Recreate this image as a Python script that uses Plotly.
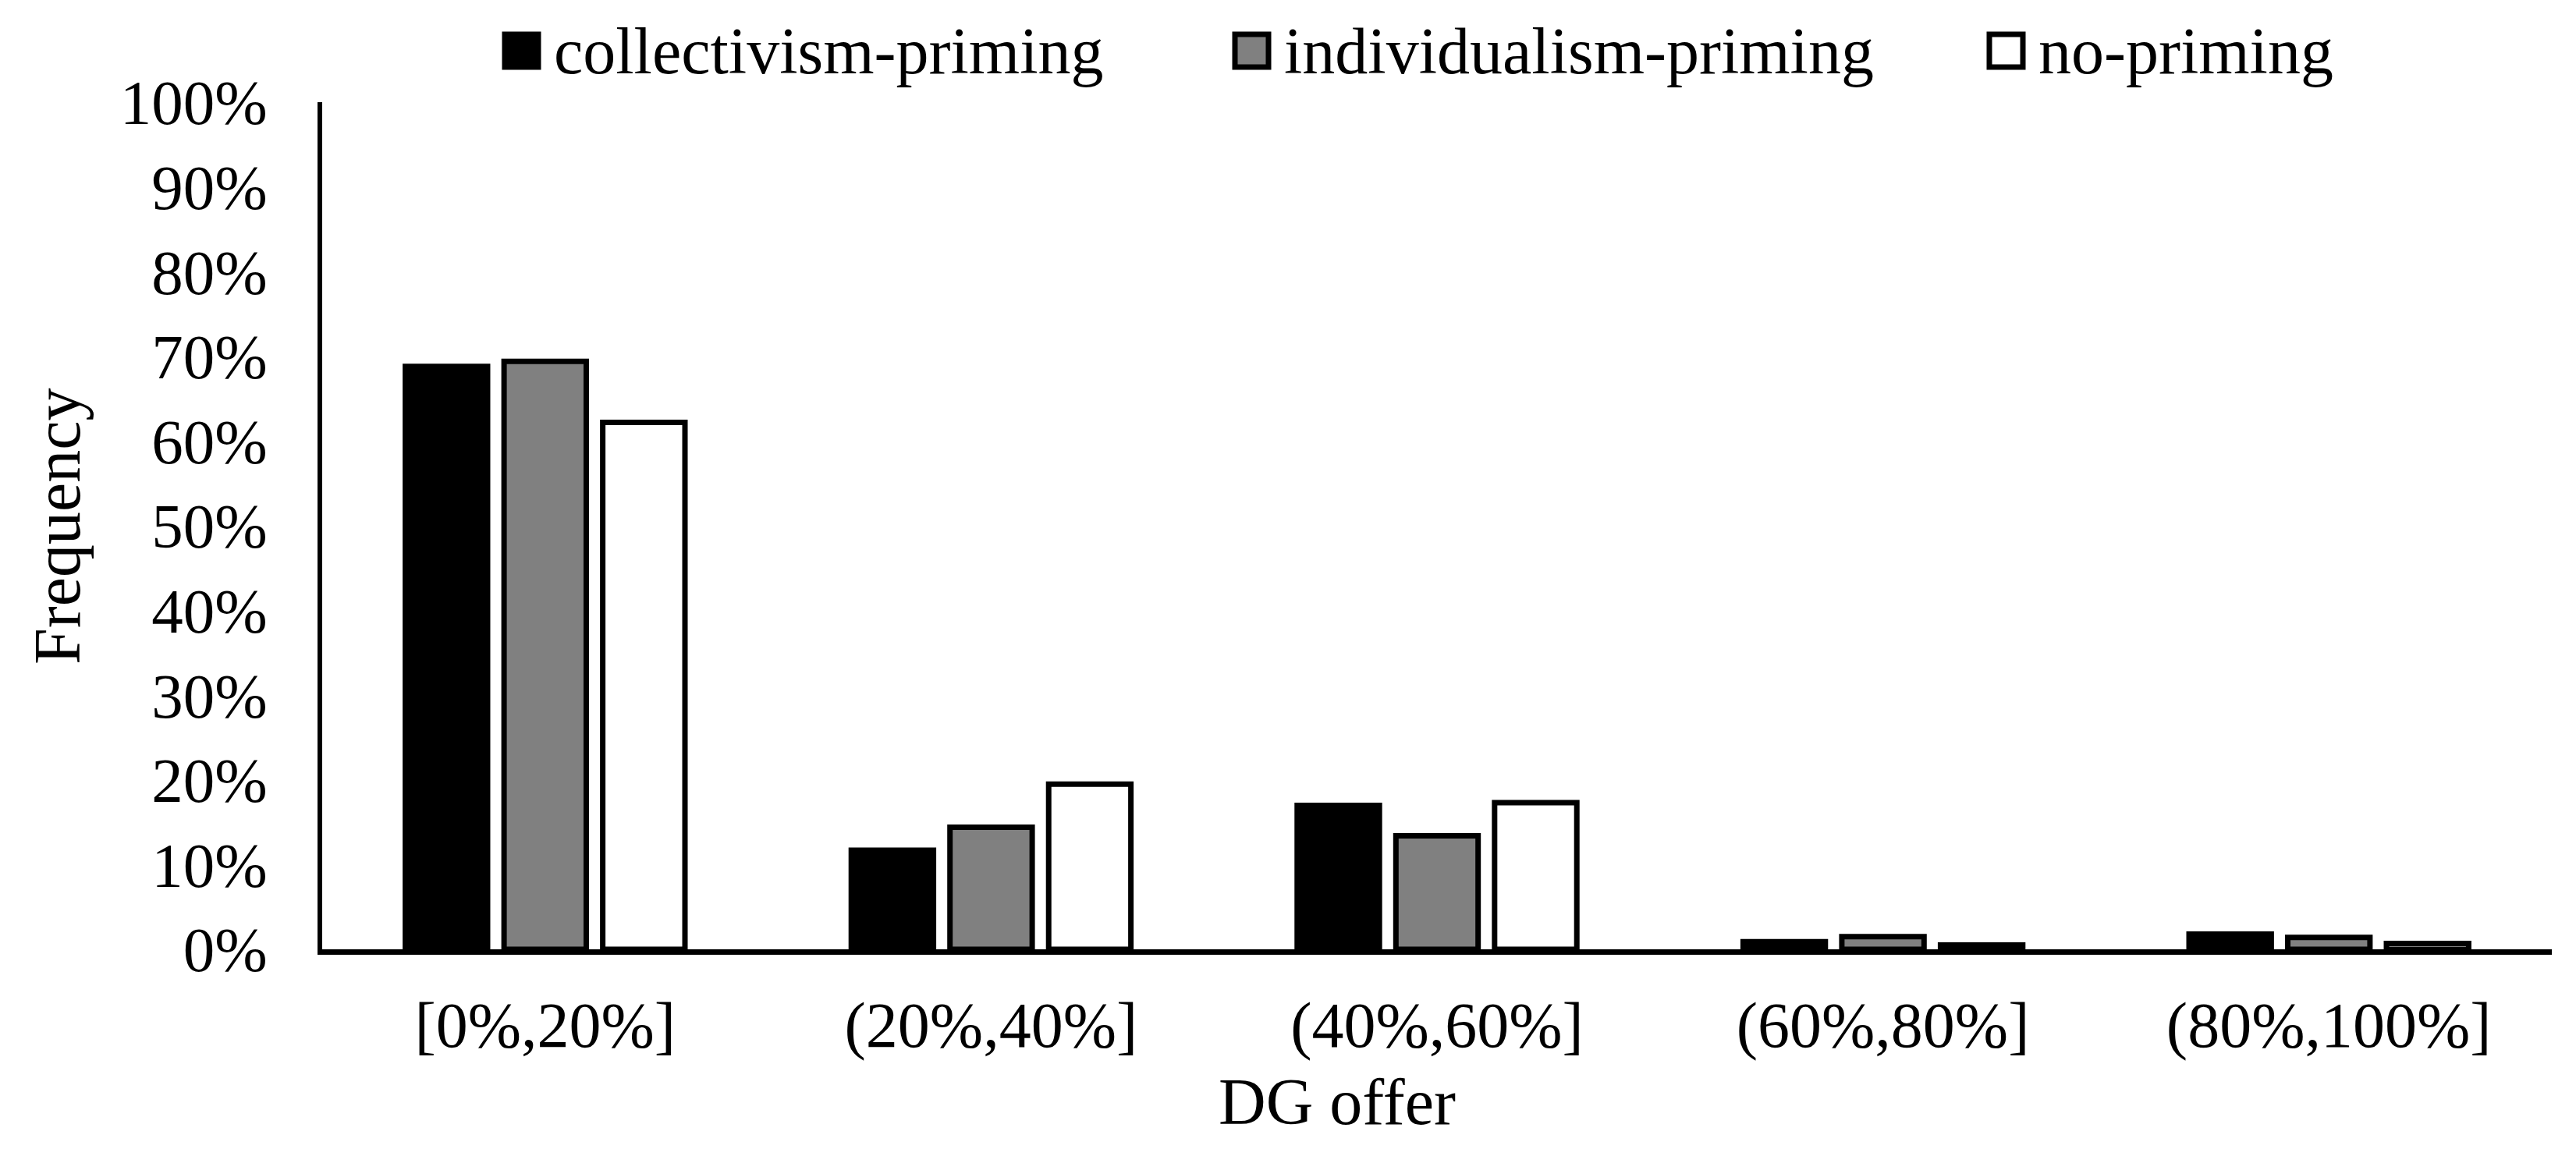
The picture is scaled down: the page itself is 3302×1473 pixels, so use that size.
import plotly.graph_objects as go

categories = ["[0%,20%]", "(20%,40%]", "(40%,60%]", "(60%,80%]", "(80%,100%]"]
collectivism = [0.688, 0.117, 0.170, 0.009, 0.018]
individualism = [0.694, 0.144, 0.134, 0.015, 0.014]
no_priming = [0.622, 0.195, 0.173, 0.005, 0.007]

series_names = ["collectivism-priming", "individualism-priming", "no-priming"]
series_values = [collectivism, individualism, no_priming]
fills = ["#000000", "#808080", "#ffffff"]

y_ticks = [i / 10 for i in range(11)]
y_labels = [f"{i * 10}%" for i in range(11)]

FONT = "Liberation Serif, Times New Roman, serif"
W, H = 3302, 1473
OFF = 8  # page body margin offset
ML, MT = 413 - OFF, 131 - OFF
MR = W - (3271 - OFF)
MB = H - (1217 - OFF)
PW, PH = W - ML - MR, H - MT - MB


def px_x(px):
    return (px - OFF - ML) / PW


def px_y(py):
    return (MT + PH - (py - OFF)) / PH


legend_text_x = [708, 1644, 2611]  # screen pixel where each legend text starts
LEG_Y = 65

fig = go.Figure()
for name, vals, col in zip(series_names, series_values, fills):
    fig.add_trace(go.Bar(
        x=categories, y=vals, name=name, showlegend=False,
        marker=dict(color=col, line=dict(color="black", width=7)),
    ))

shapes = []
annotations = []
for name, col, tx in zip(series_names, fills, legend_text_x):
    shapes.append(dict(
        type="rect", xref="paper", yref="paper",
        x0=px_x(tx - 61), x1=px_x(tx - 18),
        y0=px_y(LEG_Y - 21), y1=px_y(LEG_Y + 21),
        fillcolor=col, line=dict(color="black", width=7),
    ))
    annotations.append(dict(
        text=name, xref="paper", yref="paper",
        x=px_x(tx), y=px_y(LEG_Y), xanchor="left", yanchor="middle",
        showarrow=False, font=dict(size=84),
    ))

annotations += [
    dict(text="DG offer", xref="paper", yref="paper",
         x=px_x(1714), y=px_y(1412),
         xanchor="center", yanchor="middle", showarrow=False,
         font=dict(size=84)),
    dict(text="Frequency", xref="paper", yref="paper",
         x=px_x(73), y=px_y(675), textangle=-90,
         xanchor="center", yanchor="middle", showarrow=False,
         font=dict(size=84)),
]

fig.update_layout(
    width=W, height=H,
    margin=dict(l=ML, r=MR, t=MT, b=MB, pad=0, autoexpand=False),
    paper_bgcolor="white", plot_bgcolor="white",
    font=dict(family=FONT, size=84, color="black"),
    barmode="group", bargap=0.336, bargroupgap=0.167,
    showlegend=False,
    xaxis=dict(showline=True, linecolor="black", linewidth=7, ticks="",
               showgrid=False, zeroline=False, tickfont=dict(size=82),
               ticklabelstandoff=20, automargin=False),
    yaxis=dict(range=[0, 1], tickvals=y_ticks, ticktext=y_labels,
               showline=True, linecolor="black", linewidth=6, ticks="",
               showgrid=False, zeroline=False, tickfont=dict(size=81),
               ticklabelstandoff=48, automargin=False),
    shapes=shapes,
    annotations=annotations,
)

fig.write_html("out.html")
